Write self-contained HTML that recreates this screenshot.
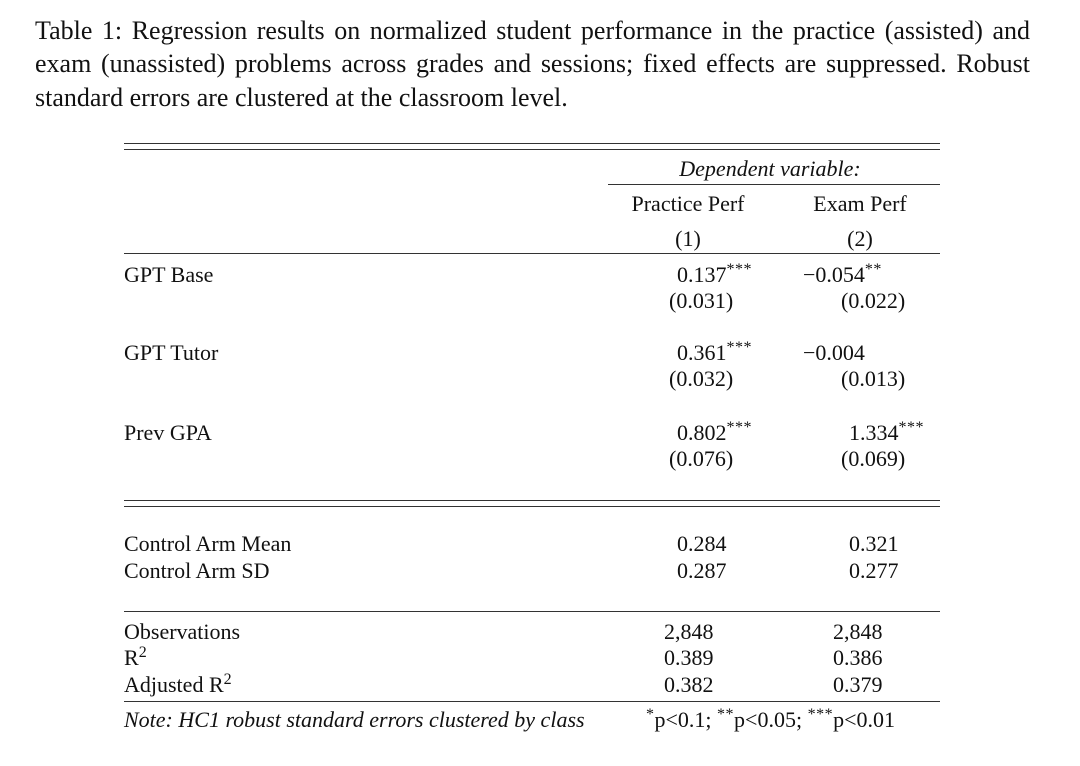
<!DOCTYPE html>
<html><head><meta charset="utf-8"><style>
html,body{margin:0;padding:0;background:#fff;}
body{width:1080px;height:766px;position:relative;overflow:hidden;font-family:"Liberation Serif",serif;color:#111;}
.cap{position:absolute;left:35px;width:995px;font-size:26px;line-height:33px;text-align:justify;text-align-last:justify;white-space:nowrap;}
.t{position:absolute;font-size:22px;line-height:26px;white-space:nowrap;}
.c{transform:translateX(-50%);}
.hl{position:absolute;height:1.3px;background:#333;}
sup{font-size:16px;line-height:0;vertical-align:8px;letter-spacing:0.5px;}
i{font-style:italic;}
</style></head><body>
<div class="cap" style="top:14px">Table 1: Regression results on normalized student performance in the practice (assisted) and</div>
<div class="cap" style="top:47px">exam (unassisted) problems across grades and sessions; fixed effects are suppressed. Robust</div>
<div class="cap" style="top:81px;text-align-last:left;width:auto">standard errors are clustered at the classroom level.</div>

<div class="hl" style="left:124px;width:816px;top:143px"></div>
<div class="hl" style="left:124px;width:816px;top:149px"></div>
<div class="t c" style="left:770px;top:156px"><i>Dependent variable:</i></div>
<div class="hl" style="left:608px;width:332px;top:184px"></div>
<div class="t c" style="left:688px;top:191px">Practice Perf</div>
<div class="t c" style="left:860px;top:191px">Exam Perf</div>
<div class="t c" style="left:688px;top:226px">(1)</div>
<div class="t c" style="left:860px;top:226px">(2)</div>
<div class="hl" style="left:124px;width:816px;top:253px"></div>

<div class="t" style="left:124px;top:262px">GPT Base</div>
<div class="t" style="left:677px;top:262px">0.137<sup>***</sup></div>
<div class="t" style="left:803px;top:262px">&minus;0.054<sup>**</sup></div>
<div class="t" style="left:669px;top:288px">(0.031)</div>
<div class="t" style="left:841px;top:288px">(0.022)</div>

<div class="t" style="left:124px;top:340px">GPT Tutor</div>
<div class="t" style="left:677px;top:340px">0.361<sup>***</sup></div>
<div class="t" style="left:803px;top:340px">&minus;0.004</div>
<div class="t" style="left:669px;top:366px">(0.032)</div>
<div class="t" style="left:841px;top:366px">(0.013)</div>

<div class="t" style="left:124px;top:420px">Prev GPA</div>
<div class="t" style="left:677px;top:420px">0.802<sup>***</sup></div>
<div class="t" style="left:849px;top:420px">1.334<sup>***</sup></div>
<div class="t" style="left:669px;top:446px">(0.076)</div>
<div class="t" style="left:841px;top:446px">(0.069)</div>

<div class="hl" style="left:124px;width:816px;top:500px"></div>
<div class="hl" style="left:124px;width:816px;top:506px"></div>

<div class="t" style="left:124px;top:531px">Control Arm Mean</div>
<div class="t" style="left:677px;top:531px">0.284</div>
<div class="t" style="left:849px;top:531px">0.321</div>
<div class="t" style="left:124px;top:558px">Control Arm SD</div>
<div class="t" style="left:677px;top:558px">0.287</div>
<div class="t" style="left:849px;top:558px">0.277</div>

<div class="hl" style="left:124px;width:816px;top:611px"></div>
<div class="t" style="left:124px;top:619px">Observations</div>
<div class="t" style="left:664px;top:619px">2,848</div>
<div class="t" style="left:833px;top:619px">2,848</div>
<div class="t" style="left:124px;top:645px">R<sup>2</sup></div>
<div class="t" style="left:664px;top:645px">0.389</div>
<div class="t" style="left:833px;top:645px">0.386</div>
<div class="t" style="left:124px;top:672px">Adjusted R<sup>2</sup></div>
<div class="t" style="left:664px;top:672px">0.382</div>
<div class="t" style="left:833px;top:672px">0.379</div>
<div class="hl" style="left:124px;width:816px;top:701px"></div>
<div class="t" style="left:124px;top:707px"><i>Note: HC1 robust standard errors clustered by class</i></div>
<div class="t" style="left:646px;top:707px"><sup>*</sup>p&lt;0.1; <sup>**</sup>p&lt;0.05; <sup>***</sup>p&lt;0.01</div>
</body></html>
